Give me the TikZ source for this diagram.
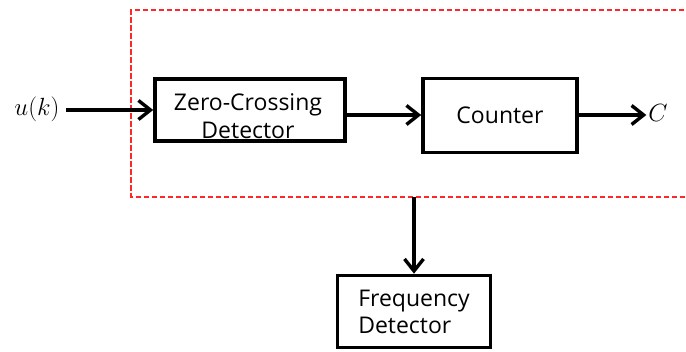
\documentclass[tikz,border=0pt]{standalone}
\usepackage{fontspec}
\setmainfont{Open Sans}
\usetikzlibrary{arrows.meta}
\definecolor{framered}{RGB}{255,40,40}
\tikzset{
  block/.style={draw, line width=3.6pt, rectangle, inner sep=0pt},
  blocktext/.style={font=\fontsize{23}{26}\selectfont, inner sep=0pt},
  sig/.style={line width=3.6pt, -{Straight Barb[length=12pt,width=19pt,line width=3.4pt]}},
  group/.style={draw=framered, line width=2pt, dash pattern=on 5.5pt off 2.5pt},
  mathlabel/.style={font=\fontsize{20.74}{24}\selectfont, scale=1.2, transform shape, inner sep=1.5pt}
}
\begin{document}
\begin{tikzpicture}[x=1pt,y=-1pt]
\useasboundingbox (0,0) rectangle (686,352);
% dashed grouping frame (runs past the right edge)
\begin{scope}
\clip (0,0) rectangle (686,352);
\draw[group] (700,10.5) -- (131,10.5) -- (131,197) -- (700,197);
\end{scope}
\coordinate (frameb) at (414,197);
% blocks and their captions
\node[block, minimum width=190pt, minimum height=62pt] (zcd) at (250,110) {};
\node[blocktext, align=center] (zcdtext) at (248,116) {Zero-Crossing\\[2pt]Detector};
\node[block, blocktext, minimum width=154pt, minimum height=74pt] (cnt) at (500,115.5) {Counter};
\node[block, minimum width=153pt, minimum height=72pt] (fd) at (414,311.5) {};
\node[blocktext, align=left] (fdtext) at (414,311.5) {Frequency\\[1pt]Detector};
% signals
\node[mathlabel] (u) at (37,109) {$u(k)$};
\node[mathlabel] (c) at (658,113) {$C$};
\draw[sig] (u.east |- zcd.west) ++(4,0) coordinate (us) -- (zcd.west);
\draw[sig] (zcd.east |- 0,115) -- (cnt.west |- 0,115);
\draw[sig] (cnt.east |- 0,115) -- (c.west |- 0,115);
\draw[sig] (frameb) -- (fd.north);
\end{tikzpicture}
\end{document}
